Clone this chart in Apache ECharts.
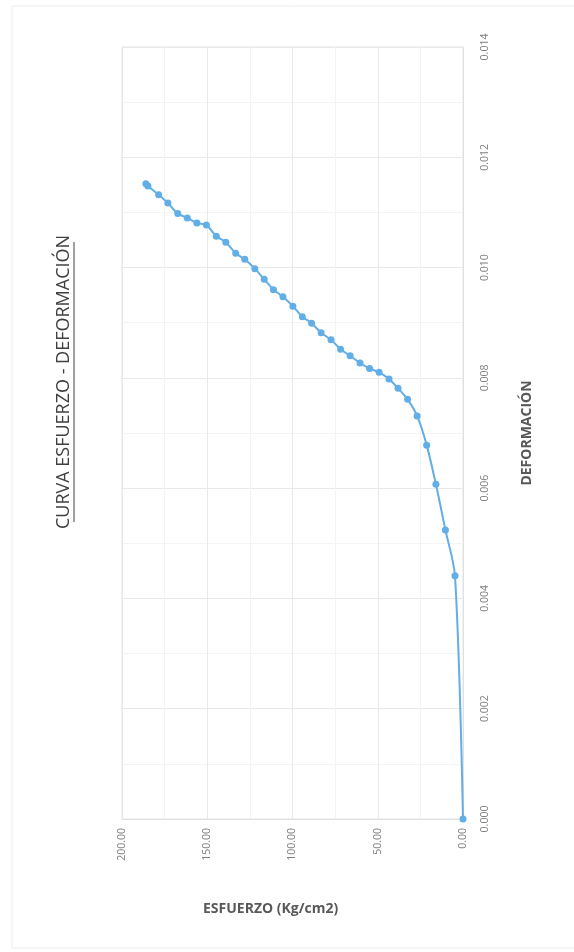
<!DOCTYPE html>
<html>
<head>
<meta charset="utf-8">
<script src="https://cdn.jsdelivr.net/npm/echarts@6/dist/echarts.min.js"></script>
<style>
  html, body { margin: 0; padding: 0; background: #fff; }
  #chart { width: 574px; height: 952px; }
</style>
</head>
<body>
<div id="chart"></div>
<script>
// curva esfuerzo - deformacion (pagina girada 90 grados)
const esfuerzo = [0, 4.7, 10.3, 15.9, 21.3, 26.9, 32.5, 38.1, 43.4, 49.2, 54.8, 60.4, 66.2,
    71.8, 77.4, 83.2, 88.8, 94.2, 99.8, 105.6, 111.2, 116.6, 122.1, 128.0, 133.3, 139.1,
    144.7, 150.5, 156.1, 161.7, 167.3, 173.1, 178.5, 184.8, 186.0];
const deformacion = [0, 0.00441, 0.00524, 0.00607, 0.00678, 0.00731, 0.00761, 0.00781,
    0.00798, 0.00810, 0.00817, 0.00827, 0.00840, 0.00852, 0.00869, 0.00882, 0.00899,
    0.00911, 0.00930, 0.00947, 0.00960, 0.00979, 0.00998, 0.01015, 0.01026, 0.01046,
    0.01057, 0.01077, 0.01081, 0.01090, 0.01098, 0.01117, 0.01132, 0.01148, 0.01152];
const esfuerzoTicks = [0, 50, 100, 150, 200];
const deformacionTicks = [0, 0.002, 0.004, 0.006, 0.008, 0.010, 0.012, 0.014];

const titulo = 'CURVA ESFUERZO - DEFORMACIÓN';
const nombreX = 'ESFUERZO (Kg/cm2)';
const nombreY = 'DEFORMACIÓN';

const chart = echarts.init(document.getElementById('chart'), null, { renderer: 'canvas' });

const puntos = esfuerzo.map((v, i) => [v, deformacion[i]]);
const gris = '#7f7f7f';
const fuente = '"Open Sans", "Liberation Sans", sans-serif';

const option = {
    backgroundColor: '#fff',
    animation: false,
    grid: {
        left: 122, right: 111, top: 47, bottom: 133,
        show: true, borderColor: '#e4e4e4', borderWidth: 1
    },
    xAxis: {
        type: 'value',
        inverse: true,
        min: esfuerzoTicks[0],
        max: esfuerzoTicks[esfuerzoTicks.length - 1],
        interval: 50,
        axisLine: { show: true, lineStyle: { color: '#e0e0e0' } },
        axisTick: { show: false },
        axisLabel: {
            rotate: 90, margin: 9, color: gris, fontSize: 10.5, fontFamily: fuente,
            formatter: v => v.toFixed(2)
        },
        splitLine: { lineStyle: { color: '#e9e9e9' } },
        minorTick: { show: true, splitNumber: 2, length: 0 },
        minorSplitLine: { show: true, lineStyle: { color: '#f4f4f4' } }
    },
    yAxis: {
        type: 'value',
        position: 'right',
        min: deformacionTicks[0],
        max: deformacionTicks[deformacionTicks.length - 1],
        interval: 0.002,
        axisLine: { show: true, lineStyle: { color: '#e0e0e0' } },
        axisTick: { show: false },
        axisLabel: {
            rotate: 90, margin: 17, color: gris, fontSize: 10.5, fontFamily: fuente,
            formatter: v => v.toFixed(3)
        },
        splitLine: { lineStyle: { color: '#e9e9e9' } },
        minorTick: { show: true, splitNumber: 2, length: 0 },
        minorSplitLine: { show: true, lineStyle: { color: '#f4f4f4' } },
        name: nombreY,
        nameLocation: 'middle',
        nameRotate: 90,
        nameGap: 57,
        nameTextStyle: { color: '#595959', fontSize: 14, fontWeight: 'bold', fontFamily: fuente }
    },
    graphic: [
        {
            type: 'rect', silent: true, z: -1,
            shape: { x: 12, y: 6, width: 580, height: 942 },
            style: { fill: 'none', stroke: '#ececec', lineWidth: 1 }
        },
        {
            type: 'text', left: 203, top: 902,
            style: { text: nombreX, fill: '#595959', font: 'bold 14px ' + fuente }
        },
        {
            type: 'group', x: 64, y: 382, rotation: Math.PI / 2,
            children: [
                {
                    type: 'text', x: 0, y: 0,
                    style: {
                        text: titulo, fill: '#404040', font: '18px ' + fuente,
                        align: 'center', verticalAlign: 'middle'
                    }
                },
                {
                    type: 'line',
                    shape: { x1: -140, y1: 10, x2: 140, y2: 10 },
                    style: { stroke: '#404040', lineWidth: 1 }
                }
            ]
        }
    ],
    series: [{
        type: 'line',
        data: puntos,
        smooth: 0.3,
        symbol: 'circle',
        symbolSize: 7,
        lineStyle: { color: '#62aee6', width: 2 },
        itemStyle: { color: '#62aee6' }
    }]
};

chart.setOption(option);
</script>
</body>
</html>
